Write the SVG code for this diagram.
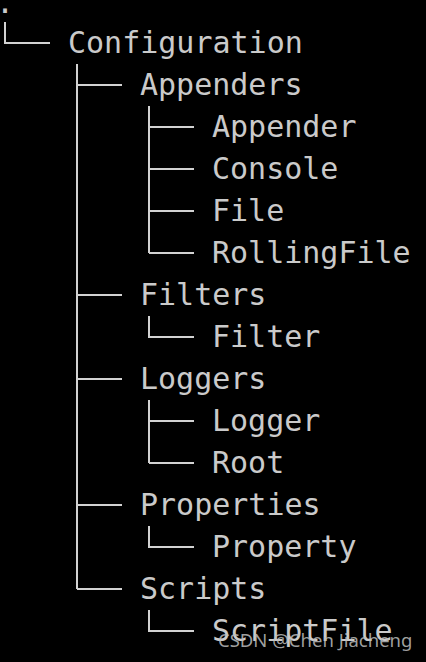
<svg xmlns="http://www.w3.org/2000/svg" width="426" height="662" viewBox="0 0 426 662">
<style>
.t{font-family:"DejaVu Sans Mono","Liberation Mono",monospace;font-size:30px;fill:#cacaca}
.c{stroke:#d2d2d2;stroke-width:2;fill:none}
.w{font-family:"Noto Sans","Liberation Sans",sans-serif;font-size:18.5px;fill:#bdbdbd;fill-opacity:0.85}
</style>
<rect width="426" height="662" fill="#000"/>
<g id="connectors" class="c">
<path d="M5 22V43H50"/>
<path d="M77 64V589"/>
<path d="M77 85H122M77 295H122M77 379H122M77 505H122M77 589H122"/>
<path d="M149 106V253M149 127H194M149 169H194M149 211H194M149 253H194"/>
<path d="M149 316V337H194"/>
<path d="M149 400V463M149 421H194M149 463H194"/>
<path d="M149 526V547H194"/>
<path d="M149 610V631H194"/>
</g>
<g id="root"><text class="t" x="-4" y="13">.</text></g>
<g id="configuration"><text class="t" x="68" y="53">Configuration</text></g>
<g id="appenders"><text class="t" x="140" y="95">Appenders</text></g>
<g id="appender"><text class="t" x="212" y="137">Appender</text></g>
<g id="console"><text class="t" x="212" y="179">Console</text></g>
<g id="file"><text class="t" x="212" y="221">File</text></g>
<g id="rollingfile"><text class="t" x="212" y="263">RollingFile</text></g>
<g id="filters"><text class="t" x="140" y="305">Filters</text></g>
<g id="filter"><text class="t" x="212" y="347">Filter</text></g>
<g id="loggers"><text class="t" x="140" y="389">Loggers</text></g>
<g id="logger"><text class="t" x="212" y="431">Logger</text></g>
<g id="rootlogger"><text class="t" x="212" y="473">Root</text></g>
<g id="properties"><text class="t" x="140" y="515">Properties</text></g>
<g id="property"><text class="t" x="212" y="557">Property</text></g>
<g id="scripts"><text class="t" x="140" y="599">Scripts</text></g>
<g id="scriptfile"><text class="t" x="212" y="641">ScriptFile</text></g>
<text class="w" x="218" y="647">CSDN @Chen Jiacheng</text>
</svg>
